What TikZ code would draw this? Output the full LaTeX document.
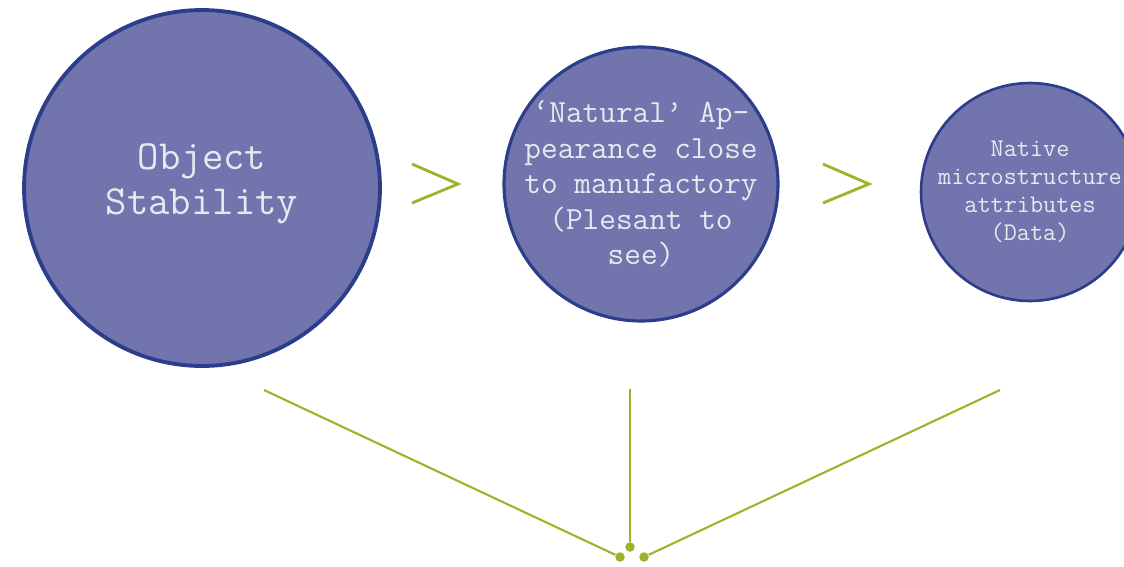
\documentclass[tikz,border=0pt]{standalone}
\usepackage{fontspec}
\usetikzlibrary{positioning}
\definecolor{ballfill}{HTML}{7275AD}
\definecolor{balledge}{HTML}{2C3D8C}
\definecolor{leafgreen}{HTML}{9BB52A}
\definecolor{ballfont}{HTML}{E8E8F0}
\begin{document}
\begin{tikzpicture}[
    x=0.02cm, y=-0.02cm,
    ball/.style={circle, draw=balledge, fill=ballfill, text=ballfont, align=center, inner sep=-30pt},
    chevron/.style={leafgreen, line width=1.6pt, line join=miter},
    branch/.style={leafgreen, line width=1.2pt},
    knot/.style={circle, fill=leafgreen, inner sep=0pt, minimum size=0.19cm}
]
\useasboundingbox (0,0) rectangle (1124,566);

% three stages
\node[ball, line width=2.2pt, minimum size=7.12cm] (stability) at (202,188) {};
\node[text=ballfont, align=center, font=\ttfamily\fontsize{23.6}{25.6}\selectfont] (stability text) at ([yshift=0.08cm]stability.center) {Object\\Stability};
\node[ball, line width=1.8pt, minimum size=5.48cm, font=\ttfamily\fontsize{18.4}{20.2}\selectfont] (appearance) at (641,184) {‘Natural’ Ap-\\pearance close\\to manufactory\\(Plesant to\\see)};
\node[ball, line width=1.5pt, minimum size=4.36cm, font=\ttfamily\fontsize{14.5}{16}\selectfont] (native) at (1030,192) {Native\\microstructure\\attributes\\(Data)};

% chevrons between stages
\draw[chevron] (412,164) -- (458,184) -- (412,203);
\draw[chevron] (823,164) -- (869,184) -- (823,203);

% branches meeting below
\coordinate (left top) at (264,390);
\coordinate (mid top) at (630,389);
\coordinate (right top) at (1000,390);
\node[knot] (left end) at (620,557) {};
\node[knot] (mid end) at (630,547) {};
\node[knot] (right end) at (644,557) {};
\draw[branch] (left top) -- (left end);
\draw[branch] (mid top) -- (mid end);
\draw[branch] (right top) -- (right end);

\end{tikzpicture}
\end{document}
